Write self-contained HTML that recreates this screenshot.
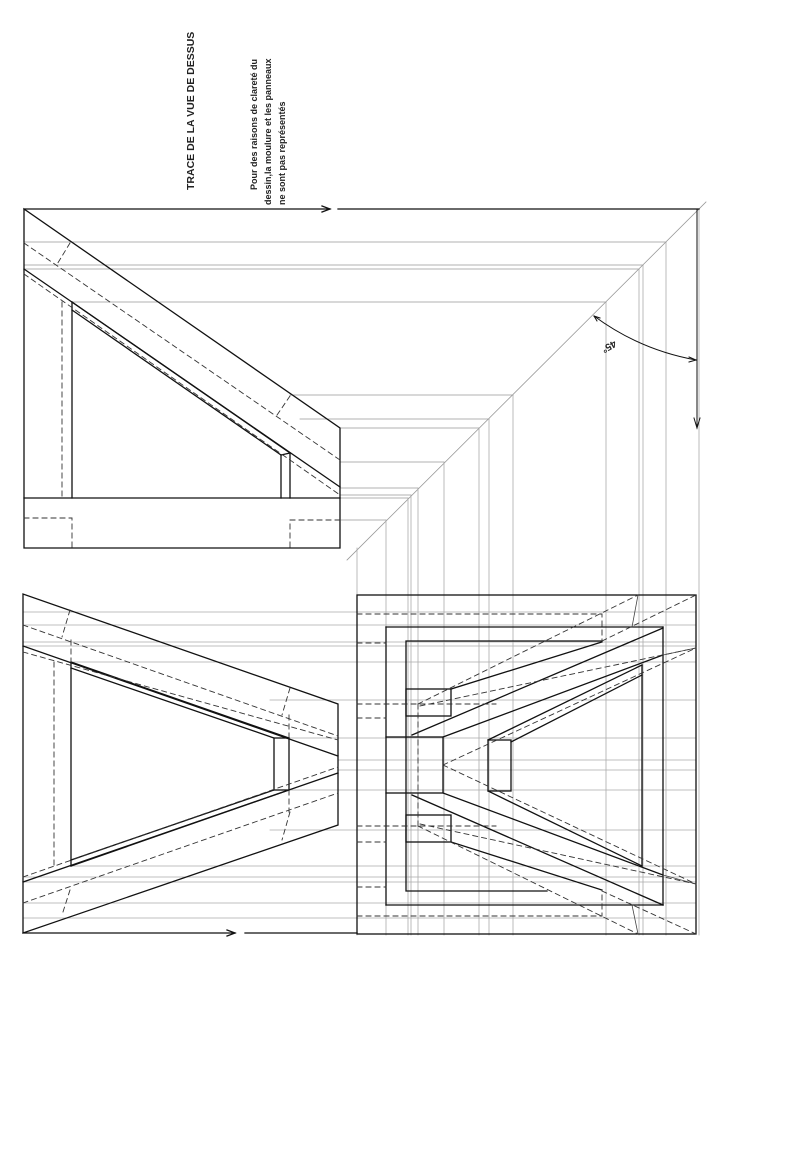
<!DOCTYPE html>
<html><head><meta charset="utf-8"><style>
html,body{margin:0;padding:0;background:#fff;width:812px;height:1150px;overflow:hidden}
svg{display:block}
text{font-family:"Liberation Sans",sans-serif;font-weight:bold;fill:#222}
</style></head><body>
<svg width="812" height="1150" viewBox="0 0 812 1150" xmlns="http://www.w3.org/2000/svg">
<g fill="none" stroke-linecap="square">
<!-- construction horizontals from upper view to 45 line -->
<g stroke="#999" stroke-width="0.8">
<line x1="24" y1="242" x2="666" y2="242"/>
<line x1="24" y1="265" x2="643" y2="265"/>
<line x1="24" y1="269" x2="639" y2="269"/>
<line x1="72" y1="302" x2="606" y2="302"/>
<line x1="290" y1="395" x2="513" y2="395"/>
<line x1="300" y1="419" x2="489" y2="419"/>
<line x1="340" y1="428" x2="479" y2="428"/>
<line x1="340" y1="462" x2="444" y2="462"/>
<line x1="340" y1="488" x2="418" y2="488"/>
<line x1="340" y1="495" x2="411" y2="495"/>
<line x1="340" y1="498" x2="408" y2="498"/>
<line x1="340" y1="520" x2="386" y2="520"/>
<!-- 45 deg line -->
<line x1="706" y1="202" x2="347" y2="560"/>
</g>
<!-- verticals down from 45 line -->
<g stroke="#aaa" stroke-width="0.8">
<line x1="699" y1="209" x2="699" y2="935"/>
<line x1="666" y1="242" x2="666" y2="935"/>
<line x1="643" y1="265" x2="643" y2="935"/>
<line x1="639" y1="269" x2="639" y2="935"/>
<line x1="606" y1="302" x2="606" y2="935"/>
<line x1="513" y1="395" x2="513" y2="935"/>
<line x1="489" y1="419" x2="489" y2="935"/>
<line x1="479" y1="428" x2="479" y2="935"/>
<line x1="444" y1="462" x2="444" y2="935"/>
<line x1="418" y1="488" x2="418" y2="935"/>
<line x1="411" y1="495" x2="411" y2="935"/>
<line x1="408" y1="498" x2="408" y2="935"/>
<line x1="386" y1="520" x2="386" y2="935"/>
<line x1="357" y1="548" x2="357" y2="935"/>
</g>
<!-- horizontals across lower views -->
<g stroke="#aaa" stroke-width="0.8">
<line x1="23" y1="612" x2="696" y2="612"/>
<line x1="23" y1="625" x2="696" y2="625"/>
<line x1="23" y1="642" x2="696" y2="642"/>
<line x1="23" y1="646" x2="696" y2="646"/>
<line x1="71" y1="662" x2="696" y2="662"/>
<line x1="270" y1="700" x2="696" y2="700"/>
<line x1="289" y1="738" x2="696" y2="738"/>
<line x1="338" y1="760" x2="696" y2="760"/>
<line x1="338" y1="770" x2="696" y2="770"/>
<line x1="289" y1="790" x2="696" y2="790"/>
<line x1="270" y1="830" x2="696" y2="830"/>
<line x1="71" y1="866" x2="696" y2="866"/>
<line x1="23" y1="877" x2="696" y2="877"/>
<line x1="23" y1="882" x2="696" y2="882"/>
<line x1="23" y1="903" x2="696" y2="903"/>
<line x1="23" y1="918" x2="696" y2="918"/>
</g>

<!-- ===== Upper-left view ===== -->
<g stroke="#111" stroke-width="1.3">
<line x1="24" y1="209" x2="330" y2="209"/>
<path d="M322 206 L330 209 L322 212"/>
<line x1="338" y1="209" x2="699" y2="209"/>
<path d="M24 209 L24 548 L340 548 L340 428 Z"/>
<line x1="24" y1="498" x2="340" y2="498"/>
<line x1="24" y1="269" x2="340" y2="487"/>
<line x1="72" y1="302" x2="72" y2="498"/>
<line x1="72" y1="302" x2="290" y2="453"/>
<line x1="72" y1="310" x2="281" y2="455"/>
<line x1="281" y1="455" x2="281" y2="498"/>
<line x1="290" y1="453" x2="290" y2="498"/>
<line x1="281" y1="455" x2="290" y2="453"/>
</g>
<g stroke="#333" stroke-width="0.9" stroke-dasharray="5,4">
<line x1="24" y1="243" x2="340" y2="460"/>
<line x1="24" y1="274" x2="340" y2="495"/>
<line x1="62" y1="302" x2="62" y2="498"/>
<line x1="70" y1="243" x2="56" y2="266"/>
<line x1="290" y1="396" x2="275" y2="418"/>
<path d="M24 518 L72 518 L72 548"/>
<path d="M340 520 L290 520 L290 548"/>
</g>

<!-- ===== Lower-left view ===== -->
<g stroke="#111" stroke-width="1.3">
<path d="M23 594 L23 933 L338 825 L338 704 Z"/>
<line x1="23" y1="646" x2="338" y2="756"/>
<line x1="23" y1="882" x2="338" y2="773"/>
<line x1="71" y1="662" x2="71" y2="866"/>
<line x1="71" y1="662" x2="289" y2="738"/>
<line x1="71" y1="668" x2="274" y2="738"/>
<line x1="71" y1="866" x2="289" y2="790"/>
<line x1="71" y1="860" x2="274" y2="790"/>
<rect x="274" y="738" width="15" height="52"/>
<line x1="23" y1="933" x2="235" y2="933"/>
<path d="M227 930 L235 933 L227 936"/>
<line x1="245" y1="933" x2="357" y2="933"/>
</g>
<g stroke="#333" stroke-width="0.9" stroke-dasharray="5,4">
<line x1="23" y1="625" x2="338" y2="736"/>
<line x1="23" y1="652" x2="338" y2="740"/>
<line x1="23" y1="903" x2="338" y2="793"/>
<line x1="23" y1="877" x2="338" y2="767"/>
<line x1="54" y1="662" x2="54" y2="866"/>
<line x1="70" y1="610" x2="62" y2="637"/>
<line x1="70" y1="890" x2="62" y2="915"/>
<line x1="290" y1="688" x2="282" y2="715"/>
<line x1="290" y1="812" x2="282" y2="840"/>
<line x1="71" y1="640" x2="71" y2="662"/>
<line x1="289" y1="715" x2="289" y2="738"/>
<line x1="289" y1="790" x2="289" y2="812"/>
</g>

<!-- ===== Lower-right view ===== -->
<g stroke="#111" stroke-width="1.3">
<rect x="357" y="595" width="339" height="339"/>
<path d="M602 641 L406 641 L406 891 L547 891"/>
<line x1="386" y1="627" x2="663" y2="627"/>
<line x1="386" y1="627" x2="386" y2="737"/>
<line x1="386" y1="793" x2="386" y2="905"/>
<line x1="386" y1="905" x2="663" y2="905"/>
<line x1="663" y1="627" x2="663" y2="905"/>
<rect x="386" y="737" width="57" height="56"/>
<rect x="406" y="689" width="45" height="27"/>
<rect x="406" y="815" width="45" height="27"/>
<line x1="451" y1="689" x2="602" y2="642"/>
<line x1="412" y1="735" x2="663" y2="628"/>
<line x1="443" y1="737" x2="663" y2="655"/>
<line x1="488" y1="740" x2="642" y2="665"/>
<line x1="511" y1="742" x2="642" y2="675"/>
<rect x="488" y="740" width="23" height="51"/>
<line x1="642" y1="665" x2="642" y2="866"/>
<line x1="451" y1="842" x2="602" y2="890"/>
<line x1="412" y1="795" x2="663" y2="905"/>
<line x1="443" y1="793" x2="663" y2="875"/>
<line x1="488" y1="791" x2="642" y2="866"/>
</g>
<g stroke="#333" stroke-width="0.9" stroke-dasharray="5,4">
<path d="M357 614 L602 614 L602 641"/>
<path d="M357 916 L602 916 L602 891"/>
<line x1="357" y1="643" x2="386" y2="643"/>
<line x1="357" y1="704" x2="496" y2="704"/>
<line x1="357" y1="826" x2="496" y2="826"/>
<line x1="357" y1="718" x2="386" y2="718"/>
<line x1="357" y1="842" x2="386" y2="842"/>
<line x1="357" y1="887" x2="386" y2="887"/>
<line x1="418" y1="704" x2="418" y2="826"/>
<line x1="418" y1="704" x2="638" y2="595"/>
<line x1="418" y1="826" x2="638" y2="934"/>
<line x1="420" y1="706" x2="696" y2="648"/>
<line x1="420" y1="824" x2="696" y2="884"/>
<line x1="443" y1="765" x2="696" y2="648"/>
<line x1="443" y1="765" x2="696" y2="884"/>
<line x1="602" y1="641" x2="696" y2="595"/>
<line x1="602" y1="891" x2="696" y2="934"/>
</g>
<g stroke="#444" stroke-width="0.8">
<line x1="638" y1="595" x2="632" y2="627"/>
<line x1="632" y1="905" x2="638" y2="934"/>
<line x1="663" y1="655" x2="696" y2="648"/>
<line x1="663" y1="875" x2="696" y2="884"/>
</g>

<!-- 45 deg annotation -->
<g stroke="#111" stroke-width="1">
<path d="M594 316 Q640 350 696 360"/>
<path d="M594 316 L600 318 M594 316 L597 321"/>
<path d="M696 360 L689 357 M696 360 L689 362"/>
<line x1="697" y1="209" x2="697" y2="428"/>
<path d="M694 418 L697 428 L700 418"/>
</g>
</g>
<text x="0" y="0" font-size="10" transform="translate(614,340) rotate(150)">45°</text>
<text x="0" y="0" font-size="10.5" transform="translate(194,190) rotate(-90)">TRACE DE LA VUE DE DESSUS</text>
<g font-size="9">
<text transform="translate(257,190) rotate(-90)">Pour des raisons de clareté du</text>
<text transform="translate(271,205) rotate(-90)">dessin,la moulure  et les panneaux</text>
<text transform="translate(285,205) rotate(-90)">ne sont  pas représentés</text>
</g>
</svg>
</body></html>
